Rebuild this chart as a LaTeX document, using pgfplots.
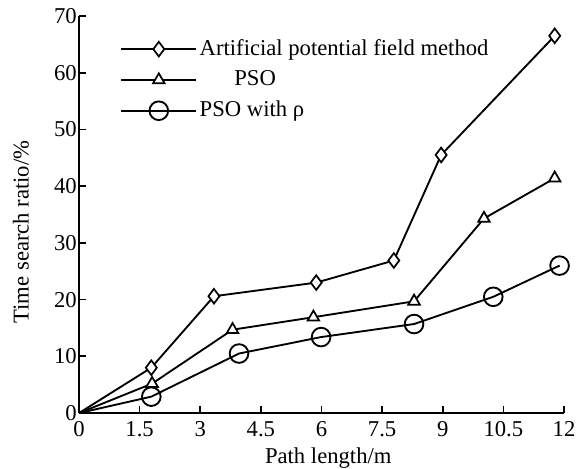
\documentclass[border=0pt]{standalone}
\usepackage{fontspec}
\setmainfont{Liberation Serif}
\usepackage{pgfplots}
\pgfplotsset{compat=1.18}

\begin{document}
\fontsize{17}{20}\selectfont
\begin{tikzpicture}
\begin{axis}[
    name=main,
    scale only axis,
    width=364pt, height=298pt,
    axis lines=left,
    axis line style={-, line width=1.8pt},
    xmin=0, xmax=12,
    ymin=0, ymax=70,
    xtick={0,1.5,3,4.5,6,7.5,9,10.5,12},
    xticklabels={0,1.5,3,4.5,6,7.5,9,10.5,12},
    ytick={0,10,20,30,40,50,60,70},
    tick align=inside,
    major tick length=5pt,
    tick style={line width=1.3pt, black},
    /pgf/number format/assume math mode=true,
    yticklabel style={inner xsep=1.5pt},
    xticklabel style={inner ysep=6pt},
    xlabel={Path length/m},
    ylabel={Time search ratio/\%},
    every axis x label/.style={at={(rel axis cs:0.514,0)}, yshift=-34pt, anchor=center},
    every axis y label/.style={at={(rel axis cs:0,0.456)}, xshift=-43.5pt, rotate=90, anchor=center},
    clip=false,
    legend style={draw=none, fill=none, at={(rel axis cs:0.077,0.955)}, anchor=north west,
        row sep=5pt, font=\fontsize{17}{20}\selectfont},
    legend cell align=left,
    legend image code/.code={
        \draw[mark indices={2}] plot coordinates {(0pt,0pt) (28pt,0pt) (56pt,0pt)};
    },
    every axis plot/.append style={line width=1.4pt, black,
        mark options={fill=white, solid, line width=1.3pt}},
]
\addplot[mark=diamond*, mark size=5.5pt, mark indices={2,3,4,5,6,7}] coordinates {
    (0,0) (1.79,8.0) (3.34,20.6) (5.87,23.0) (7.79,26.9) (8.96,45.5) (11.77,66.5)
};
\addlegendentry{Artificial potential field method}
\addplot[mark=triangle*, mark size=5pt, mark indices={2,3,4,5,6,7}] coordinates {
    (0,0) (1.81,5.2) (3.8,14.7) (5.8,16.9) (8.29,19.7) (10.02,34.3) (11.77,41.4)
};
\addlegendentry{\hspace{26pt}PSO}
\addplot[mark=o, mark size=7pt, mark indices={2,3,4,5,6,7}, mark options={fill=white}] coordinates {
    (0,0) (1.79,2.9) (3.96,10.5) (5.99,13.4) (8.29,15.7) (10.25,20.5) (11.89,26.0)
};
\addlegendentry{PSO with ρ}
\end{axis}
\pgfresetboundingbox
\path[use as bounding box] ([xshift=-59.25pt,yshift=-41.25pt]main.south west) rectangle ([xshift=9pt,yshift=12pt]main.north east);
\end{tikzpicture}
\end{document}
